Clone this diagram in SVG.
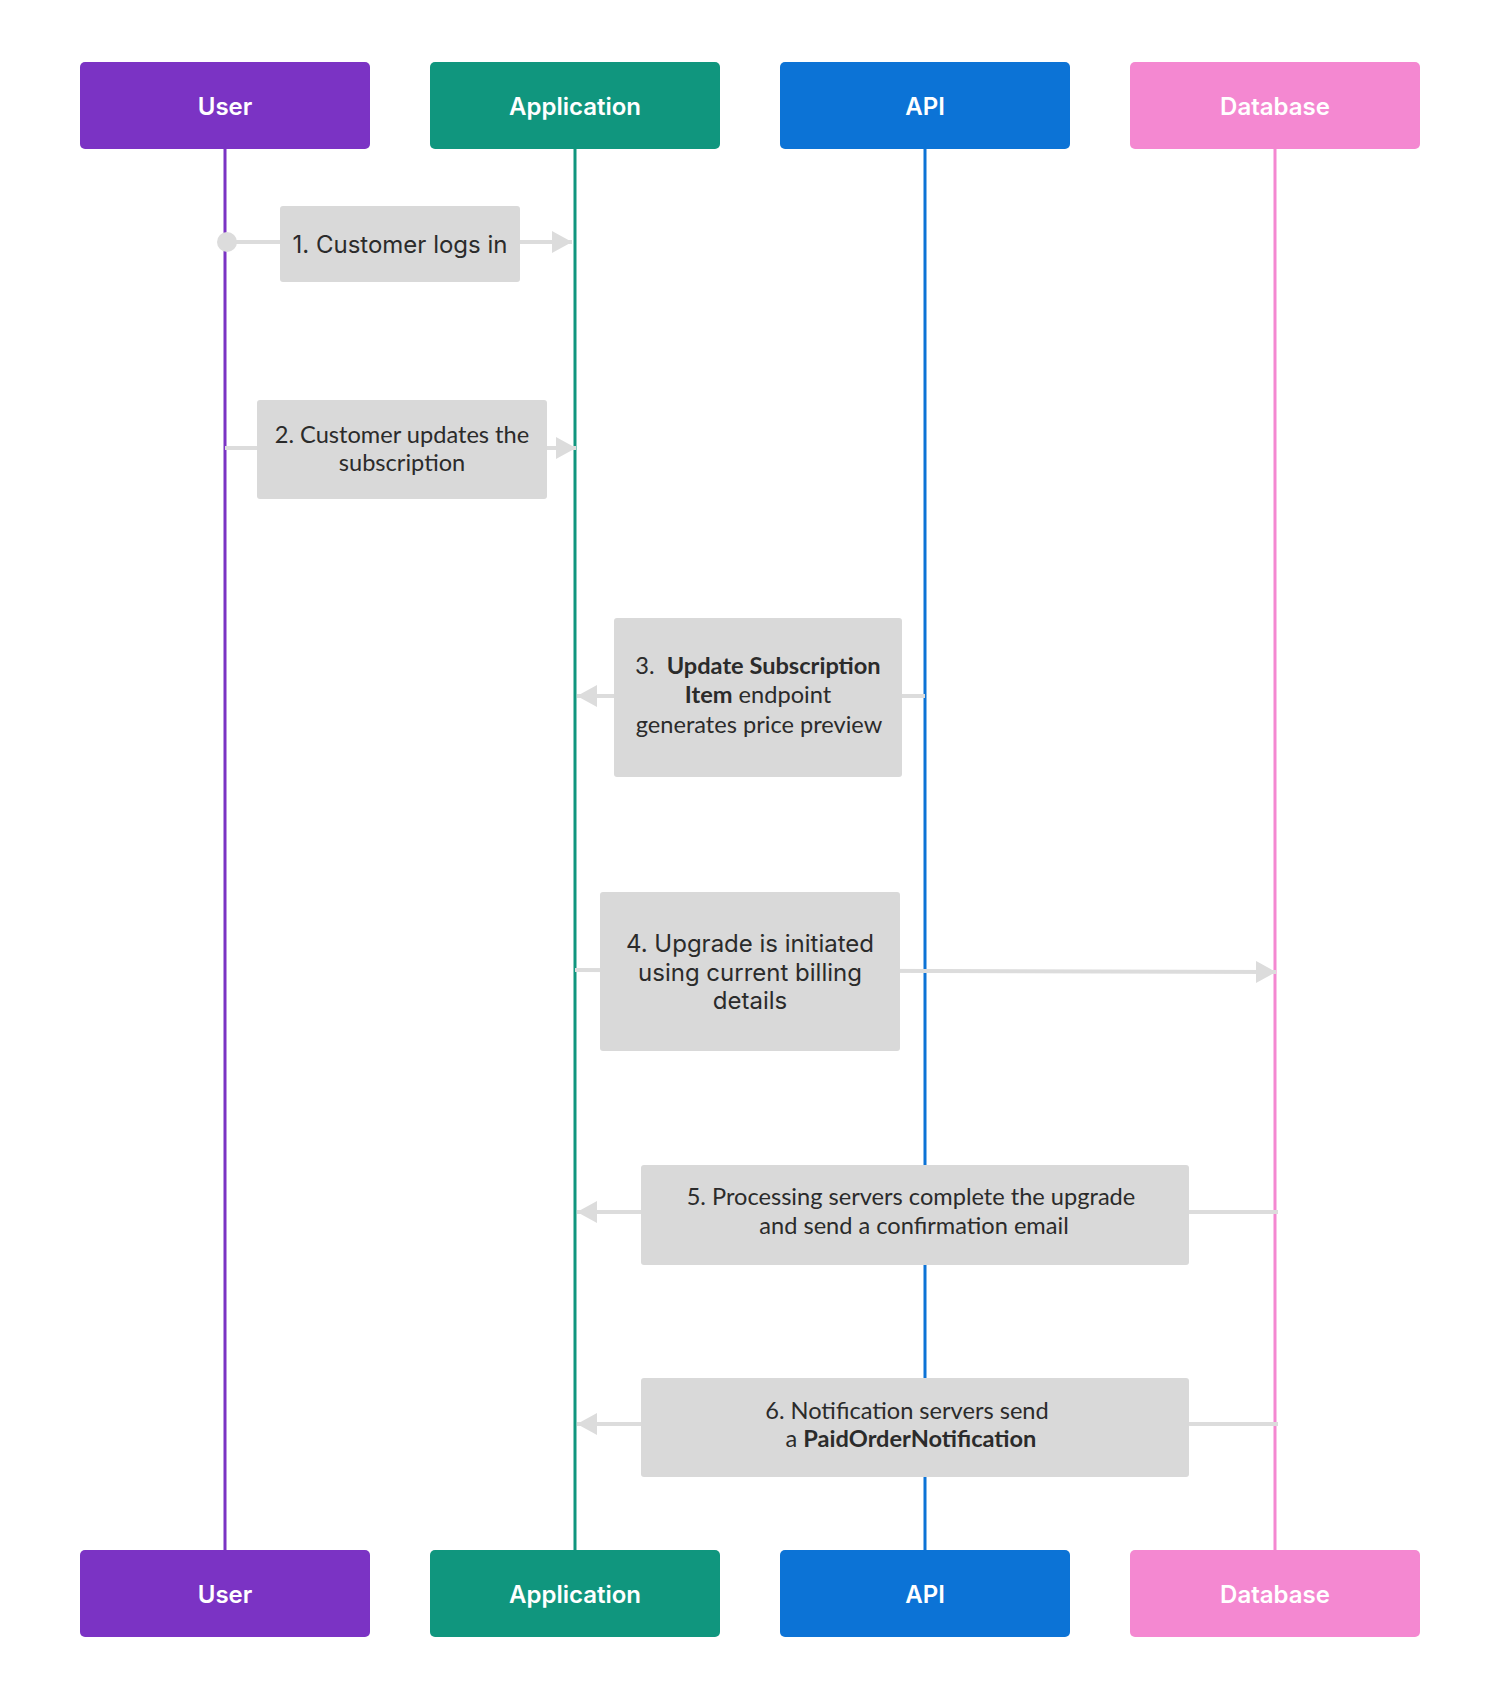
<svg xmlns="http://www.w3.org/2000/svg" width="1500" height="1700" viewBox="0 0 1500 1700">
<style>
.hdr{font-family:Inter,"Liberation Sans",sans-serif;font-size:24px;font-weight:600;fill:#ffffff;text-anchor:middle;dominant-baseline:central}
.msg{fill:#d9d9d9}
.t1{font-family:Inter,"Liberation Sans",sans-serif;font-size:24px;fill:#2b2b2b;text-anchor:middle}
.t2{font-family:Lato,"Liberation Sans",sans-serif;font-size:23.6px;fill:#2b2b2b;text-anchor:middle}
.b{font-weight:700}
.conn{stroke:#dcdcdc;stroke-width:4;fill:none}
.life{stroke-width:3;fill:none}
</style>
<defs>
<marker id="arr" viewBox="0 0 20 22" refX="20" refY="11" markerWidth="20" markerHeight="22" markerUnits="userSpaceOnUse" orient="auto">
<path d="M0,0 L20,11 L0,22 z" fill="#dcdcdc"/>
</marker>
</defs>
<rect width="1500" height="1700" fill="#ffffff"/>
<g id="lifelines">
<line class="life" x1="225" y1="149" x2="225" y2="1550" stroke="#7b33c4"/>
<line class="life" x1="575" y1="149" x2="575" y2="1550" stroke="#10967e"/>
<line class="life" x1="925" y1="149" x2="925" y2="1550" stroke="#0c73d6"/>
<line class="life" x1="1275" y1="149" x2="1275" y2="1550" stroke="#f488d1"/>
</g>
<g id="connectors">
<line class="conn" x1="227" y1="242" x2="572" y2="242" marker-end="url(#arr)"/>
<circle cx="227" cy="242" r="10" fill="#dcdcdc"/>
<line class="conn" x1="225" y1="448" x2="576" y2="448" marker-end="url(#arr)"/>
<line class="conn" x1="925" y1="696" x2="577" y2="696" marker-end="url(#arr)"/>
<line class="conn" x1="575" y1="970" x2="1276" y2="972" marker-end="url(#arr)"/>
<line class="conn" x1="1278" y1="1212" x2="577" y2="1212" marker-end="url(#arr)"/>
<line class="conn" x1="1278" y1="1424" x2="577" y2="1424" marker-end="url(#arr)"/>
</g>
<g id="user-top"><rect x="80" y="62" width="290" height="87" rx="5" fill="#7b33c4"/><text class="hdr" x="225" y="106">User</text></g>
<g id="app-top"><rect x="430" y="62" width="290" height="87" rx="5" fill="#10967e"/><text class="hdr" x="575" y="106">Application</text></g>
<g id="api-top"><rect x="780" y="62" width="290" height="87" rx="5" fill="#0c73d6"/><text class="hdr" x="925" y="106">API</text></g>
<g id="db-top"><rect x="1130" y="62" width="290" height="87" rx="5" fill="#f488d1"/><text class="hdr" x="1275" y="106">Database</text></g>
<g id="user-bottom"><rect x="80" y="1550" width="290" height="87" rx="5" fill="#7b33c4"/><text class="hdr" x="225" y="1594">User</text></g>
<g id="app-bottom"><rect x="430" y="1550" width="290" height="87" rx="5" fill="#10967e"/><text class="hdr" x="575" y="1594">Application</text></g>
<g id="api-bottom"><rect x="780" y="1550" width="290" height="87" rx="5" fill="#0c73d6"/><text class="hdr" x="925" y="1594">API</text></g>
<g id="db-bottom"><rect x="1130" y="1550" width="290" height="87" rx="5" fill="#f488d1"/><text class="hdr" x="1275" y="1594">Database</text></g>
<g id="msg1"><rect class="msg" x="280" y="206" width="240" height="76" rx="3"/><text class="t1" x="400" y="253">1. Customer logs in</text></g>
<g id="msg2"><rect class="msg" x="257" y="400" width="290" height="99" rx="3"/><text class="t2" x="402" y="443">2. Customer updates the</text><text class="t2" x="402" y="471">subscription</text></g>
<g id="msg3"><rect class="msg" x="614" y="618" width="288" height="159" rx="3"/><text class="t2" x="758" y="674">3.&#160; <tspan class="b">Update Subscription</tspan></text><text class="t2" x="758" y="703"><tspan class="b">Item</tspan> endpoint</text><text class="t2" x="759" y="733">generates price preview</text></g>
<g id="msg4"><rect class="msg" x="600" y="892" width="300" height="159" rx="3"/><text class="t1" x="750" y="952">4. Upgrade is initiated</text><text class="t1" x="750" y="981">using current billing</text><text class="t1" x="750" y="1009">details</text></g>
<g id="msg5"><rect class="msg" x="641" y="1165" width="548" height="100" rx="3"/><text class="t2" x="911" y="1205">5. Processing servers complete the upgrade</text><text class="t2" x="914" y="1234">and send a confirmation email</text></g>
<g id="msg6"><rect class="msg" x="641" y="1378" width="548" height="99" rx="3"/><text class="t2" x="907" y="1419">6. Notification servers send</text><text class="t2" x="911" y="1447">a <tspan class="b">PaidOrderNotification</tspan></text></g>
</svg>
